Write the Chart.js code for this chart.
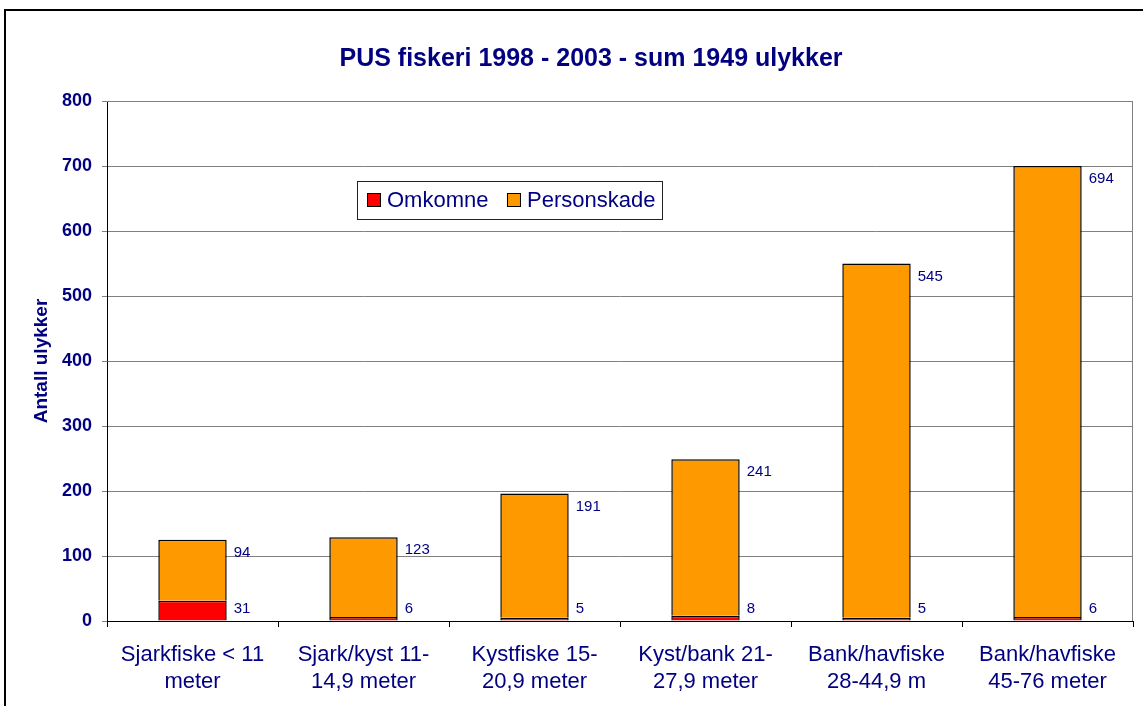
<!DOCTYPE html>
<html><head><meta charset="utf-8">
<script src="https://cdn.jsdelivr.net/npm/chart.js@4.4.0/dist/chart.umd.min.js"></script>
<style>
html,body{margin:0;padding:0;background:#fff;overflow:hidden}
#wrap{position:relative;width:1143px;height:706px}
#frame{position:absolute;left:4px;top:9px;width:1250px;height:800px;border:2px solid #000;pointer-events:none}
canvas{position:absolute;left:0;top:0}
</style></head><body>
<div id="wrap"><canvas id="c" width="1143" height="706"></canvas><div id="frame"></div></div>
<script>
const categories = [["Sjarkfiske < 11","meter"],["Sjark/kyst 11-","14,9 meter"],["Kystfiske 15-","20,9 meter"],["Kyst/bank 21-","27,9 meter"],["Bank/havfiske","28-44,9 m"],["Bank/havfiske","45-76 meter"]];
const omkomne = [31,6,5,8,5,6];
const personskade = [94,123,191,241,545,694];
const yTicks = [0,100,200,300,400,500,600,700,800];
const seriesNames = ["Omkomne","Personskade"];
const chartTitle = "PUS fiskeri 1998 - 2003 - sum 1949 ulykker";
const yTitle = "Antall ulykker";

const FONT = "'Liberation Sans', Arial, sans-serif";
const NAVY = "#000080";

const titlePlugin = {
  id:'titleP',
  afterDraw(chart){
    const ctx = chart.ctx; ctx.save();
    ctx.font = "bold 25px " + FONT; ctx.fillStyle = NAVY;
    ctx.textAlign = 'center'; ctx.textBaseline = 'middle';
    ctx.fillText(chartTitle, 591, 59);
    ctx.restore();
  }
};
const frameAreaPlugin = {
  id:'areaP',
  beforeDatasetsDraw(chart){
    const {ctx, chartArea:a} = chart; ctx.save();
    ctx.strokeStyle = '#808080'; ctx.lineWidth = 1;
    ctx.beginPath(); ctx.moveTo(a.left, a.top+0.5); ctx.lineTo(a.right-0.5, a.top+0.5); ctx.lineTo(a.right-0.5, a.bottom); ctx.stroke();
    ctx.restore();
  }
};
const labelPlugin = {
  id:'labelsP',
  afterDatasetsDraw(chart){
    const ctx = chart.ctx; ctx.save();
    ctx.font = "15px " + FONT; ctx.fillStyle = NAVY; ctx.textAlign='left'; ctx.textBaseline='middle';
    const base = chart.scales.y.getPixelForValue(0);
    chart.data.datasets.forEach((ds,i)=>{
      chart.getDatasetMeta(i).data.forEach((bar,j)=>{
        const x = bar.x + bar.width/2 + 7;
        const y = Math.min(bar.y + 13, base - 12);
        ctx.fillText(String(ds.data[j]), x, y);
      });
    });
    ctx.restore();
  }
};
const legendPlugin = {
  id:'legendP',
  afterDraw(chart){
    const ctx = chart.ctx; ctx.save();
    const bx=357, by=181, bw=305, bh=38;
    ctx.fillStyle='#fff'; ctx.fillRect(bx,by,bw,bh);
    ctx.strokeStyle='#222'; ctx.lineWidth=1; ctx.strokeRect(bx+0.5,by+0.5,bw,bh);
    ctx.font = "22px " + FONT; ctx.textBaseline='middle'; ctx.textAlign='left';
    let x = bx+10; const cy = by+bh/2;
    chart.data.datasets.forEach((ds)=>{
      ctx.fillStyle = ds.backgroundColor; ctx.fillRect(x, cy-7, 14, 14);
      ctx.strokeStyle='#000'; ctx.strokeRect(x+0.5, cy-6.5, 13, 13);
      ctx.fillStyle = NAVY; ctx.fillText(ds.label, x+20, cy+1);
      x += 20 + ctx.measureText(ds.label).width + 18.5;
    });
    ctx.restore();
  }
};

new Chart(document.getElementById('c'), {
  type:'bar',
  data:{
    labels: categories,
    datasets:[
      {label:seriesNames[0], data:omkomne, backgroundColor:'#FF0000', borderColor:'#000', borderWidth:1.5, barPercentage:0.4, categoryPercentage:1},
      {label:seriesNames[1], data:personskade, backgroundColor:'#FF9900', borderColor:'#000', borderWidth:1.5, barPercentage:0.4, categoryPercentage:1}
    ]
  },
  options:{
    responsive:false, devicePixelRatio:1, animation:false,
    layout:{padding:{left:0, top:101, right:10, bottom:0}},
    plugins:{legend:{display:false}, tooltip:{enabled:false}, title:{display:false}},
    scales:{
      x:{
        stacked:true,
        grid:{offset:true, drawOnChartArea:false, color:'#000', tickLength:6},
        border:{color:'#000', width:1},
        ticks:{color:NAVY, font:{family:FONT, size:22, lineHeight:1.2}, padding:15, maxRotation:0, autoSkip:false},
        afterFit(s){ s.height = 85; }
      },
      y:{
        stacked:true, min:0, max:800,
        afterBuildTicks(s){ s.ticks = yTicks.map(v=>({value:v})); },
        grid:{color:'#808080', tickLength:5},
        border:{color:'#000', width:1},
        ticks:{color:NAVY, font:{family:FONT, size:18, weight:'bold'}, padding:10},
        title:{display:true, text:yTitle, color:NAVY, font:{family:FONT, size:19, weight:'bold'}, padding:{top:30, bottom:0}},
        afterFit(s){ s.width = 107; }
      }
    }
  },
  plugins:[frameAreaPlugin, labelPlugin, legendPlugin, titlePlugin]
});
</script>
</body></html>
